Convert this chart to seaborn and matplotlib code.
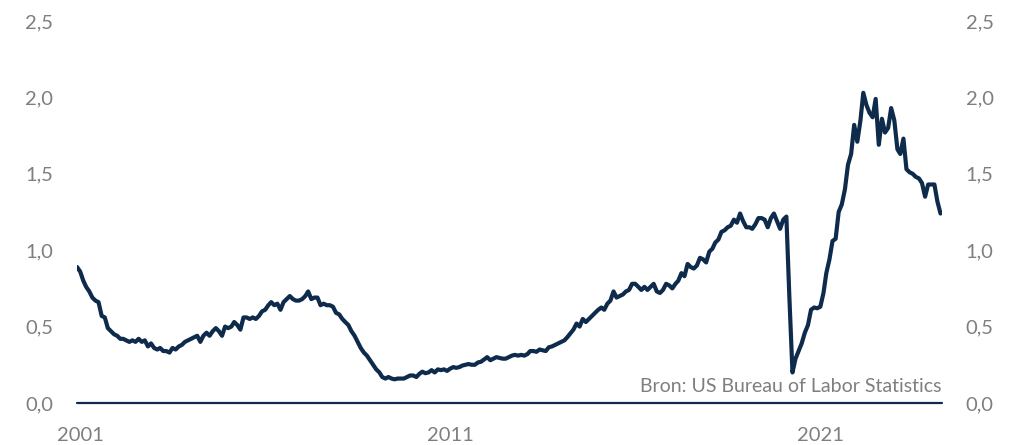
import pandas as pd
import seaborn as sns
import matplotlib.pyplot as plt
from matplotlib.ticker import FuncFormatter

# Job openings per unemployed person, monthly, Dec 2000 - Apr 2024
v2000 = [0.89]
v2001 = [0.86, 0.80, 0.76, 0.73, 0.69, 0.67, 0.66, 0.57, 0.56, 0.49, 0.47, 0.45]
v2002 = [0.44, 0.42, 0.42, 0.41, 0.40, 0.41, 0.40, 0.42, 0.40, 0.41, 0.37, 0.39]
v2003 = [0.36, 0.35, 0.36, 0.34, 0.34, 0.33, 0.36, 0.35, 0.37, 0.38, 0.40, 0.41]
v2004 = [0.42, 0.43, 0.44, 0.40, 0.44, 0.46, 0.44, 0.47, 0.49, 0.47, 0.44, 0.50]
v2005 = [0.49, 0.50, 0.53, 0.51, 0.48, 0.56, 0.56, 0.55, 0.56, 0.55, 0.57, 0.60]
v2006 = [0.61, 0.64, 0.66, 0.64, 0.65, 0.61, 0.66, 0.68, 0.70, 0.68, 0.67, 0.67]
v2007 = [0.68, 0.70, 0.73, 0.68, 0.69, 0.69, 0.64, 0.65, 0.64, 0.64, 0.63, 0.59]
v2008 = [0.58, 0.55, 0.53, 0.51, 0.47, 0.44, 0.40, 0.36, 0.33, 0.31, 0.28, 0.25]
v2009 = [0.22, 0.20, 0.17, 0.16, 0.17, 0.16, 0.155, 0.16, 0.16, 0.16, 0.17, 0.18]
v2010 = [0.18, 0.17, 0.19, 0.205, 0.195, 0.20, 0.215, 0.20, 0.22, 0.215, 0.22, 0.21]
v2011 = [0.225, 0.235, 0.23, 0.235, 0.245, 0.25, 0.255, 0.25, 0.25, 0.265, 0.27, 0.285]
v2012 = [0.30, 0.28, 0.29, 0.30, 0.295, 0.29, 0.29, 0.30, 0.31, 0.315, 0.31, 0.315]
v2013 = [0.31, 0.32, 0.34, 0.34, 0.335, 0.35, 0.345, 0.34, 0.365, 0.37, 0.38, 0.39]
v2014 = [0.40, 0.41, 0.43, 0.455, 0.48, 0.52, 0.50, 0.55, 0.53, 0.55, 0.57, 0.59]
v2015 = [0.61, 0.625, 0.61, 0.65, 0.67, 0.73, 0.69, 0.70, 0.71, 0.73, 0.74, 0.78]
v2016 = [0.78, 0.76, 0.74, 0.76, 0.74, 0.76, 0.78, 0.73, 0.72, 0.74, 0.78, 0.77]
v2017 = [0.75, 0.78, 0.80, 0.85, 0.83, 0.91, 0.89, 0.88, 0.90, 0.95, 0.94, 0.92]
v2018 = [0.99, 1.01, 1.05, 1.07, 1.12, 1.13, 1.15, 1.16, 1.20, 1.18, 1.24, 1.19]
v2019 = [1.15, 1.15, 1.14, 1.17, 1.21, 1.21, 1.20, 1.15, 1.21, 1.24, 1.19, 1.14]
v2020 = [1.20, 1.22, 0.70, 0.20, 0.29, 0.34, 0.39, 0.46, 0.51, 0.61, 0.625, 0.62]
v2021 = [0.63, 0.72, 0.85, 0.94, 1.06, 1.075, 1.25, 1.30, 1.40, 1.56, 1.63, 1.82]
v2022 = [1.71, 1.85, 2.03, 1.95, 1.90, 1.87, 1.99, 1.69, 1.86, 1.77, 1.80, 1.93]
v2023 = [1.85, 1.66, 1.63, 1.73, 1.53, 1.51, 1.50, 1.48, 1.47, 1.44, 1.35, 1.43]
v2024 = [1.43, 1.43, 1.32, 1.24]

ratio = (v2000 + v2001 + v2002 + v2003 + v2004 + v2005 + v2006 + v2007 + v2008
         + v2009 + v2010 + v2011 + v2012 + v2013 + v2014 + v2015 + v2016 + v2017
         + v2018 + v2019 + v2020 + v2021 + v2022 + v2023 + v2024)

tick_years = ["2001", "2011", "2021"]
source = "Bron: US Bureau of Labor Statistics"

NAVY = "#0e2b4c"
GREY = "#7f7f7f"

df = pd.DataFrame({
    "date": pd.date_range("2000-12-01", periods=len(ratio), freq="MS"),
    "ratio": ratio,
})

sns.set_theme(style="white")
plt.rcParams["font.family"] = ["Lato", "DejaVu Sans"]

fig = plt.figure(figsize=(10.15, 4.45), dpi=100)
ax = fig.add_axes([0.0759, 0.0944, 0.8522, 0.8584])

sns.lineplot(data=df, x="date", y="ratio", ax=ax, color=NAVY, linewidth=3.0,
             solid_joinstyle="round", solid_capstyle="round")
ax.axhline(0, color=NAVY, linewidth=1.6, clip_on=False)

ax.set_ylim(0, 2.5)
ax.set_xlim(df["date"].iloc[0], df["date"].iloc[-1] + pd.Timedelta(days=15))
ax.set_yticks([0, 0.5, 1.0, 1.5, 2.0, 2.5])
ax.yaxis.set_major_formatter(FuncFormatter(lambda v, p: f"{v:.1f}".replace(".", ",")))
ax.set_xticks(pd.to_datetime([y + "-01-01" for y in tick_years]))
ax.set_xticklabels(tick_years)

ax.tick_params(axis="y", length=0, pad=17, labelsize=14.5, labelcolor=GREY,
               labelright=True)
ax.tick_params(axis="x", length=0, pad=17, labelsize=14.5, labelcolor=GREY)
ax.set_xlabel("")
ax.set_ylabel("")
for s in ax.spines.values():
    s.set_visible(False)

ax.text(0.999, 0.02, source, transform=ax.transAxes, ha="right", va="bottom",
        fontsize=14, color=GREY)

fig.savefig("out.png", dpi=100)
